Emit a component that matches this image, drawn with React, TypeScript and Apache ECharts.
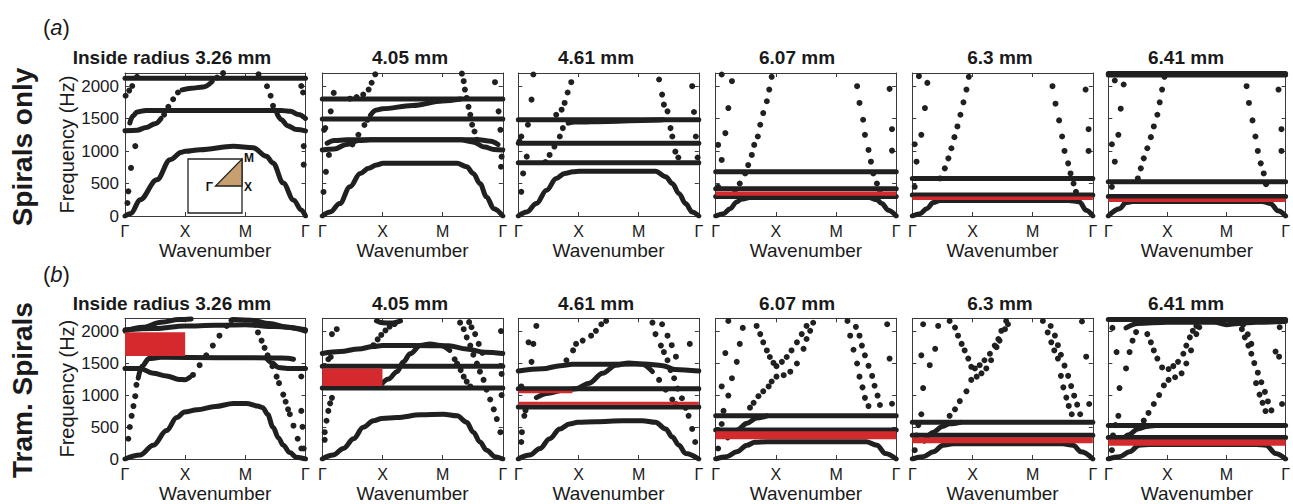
import React, { useEffect, useRef } from 'react';
import * as echarts from 'echarts';

type P = [number, number];

// ---------- texts / ticks ----------
const kLabels = ['Γ', 'X', 'M', 'Γ'];
const freqMax = 2200;
const freqStep = 500;
const panelTitles = ['Inside radius 3.26 mm', '4.05 mm', '4.61 mm', '6.07 mm', '6.3 mm', '6.41 mm'];
const rowTags = ['a', 'b'];
const rowNames = ['Spirals only', 'Tram. Spirals'];
const xName = 'Wavenumber';
const yName = 'Frequency (Hz)';

// ---------- row (a): Spirals only ----------
const a1Bands: P[][] = [
  [[0, 0], [0.1, 40], [0.25, 250], [0.53, 557], [0.75, 867], [0.94, 980], [1, 995], [1.25, 1020], [1.8, 1073], [2.13, 1050], [2.35, 918], [2.46, 816], [2.63, 506], [2.8, 248], [2.93, 93], [3, 0]],
  [[0.08, 1430], [0.13, 1540], [0.2, 1600], [0.35, 1625], [2.6, 1625], [2.75, 1610], [2.88, 1560], [3, 1500]],
  [[0, 1310], [0.2, 1320], [0.35, 1360], [0.5, 1420], [0.6, 1500]],
  [[0.95, 1940], [1.1, 1965], [1.3, 1985], [1.45, 2070]],
  [[2.53, 1566], [2.6, 1480], [2.7, 1390], [2.85, 1330], [3, 1310]],
  [[0, 2120], [3, 2120]],
];
const a1Dots: P[] = [
  [0.04, 200], [0.055, 380], [0.1, 740], [0.17, 1075], [0.01, 1850], [0.07, 1930], [0.12, 2000], [0.2, 2140],
  [0.65, 1560], [0.72, 1680], [0.8, 1796], [0.88, 1900], [1.53, 2130], [1.63, 2198],
  [2.22, 2180], [2.36, 1996], [2.42, 1850], [2.46, 1696], [2.5, 1620],
  [2.93, 2000], [2.96, 1900], [2.97, 1075], [2.97, 790],
];
const a2Bands: P[][] = [
  [[0, 0], [0.13, 62], [0.29, 191], [0.46, 449], [0.63, 655], [0.77, 733], [0.9, 784], [1.01, 810], [2.24, 810], [2.4, 758], [2.51, 655], [2.62, 500], [2.73, 294], [2.85, 113], [3, 0]],
  [[0, 1016], [0.2, 1030], [0.4, 1100], [0.6, 1160], [0.8, 1172], [2.3, 1172], [2.5, 1140], [2.7, 1060], [2.85, 1025], [3, 1016]],
  [[0.08, 1120], [0.2, 1160], [0.4, 1172], [2.6, 1172], [2.8, 1150], [2.92, 1100]],
  [[0, 1491], [3, 1491]],
  [[0, 1800], [3, 1800]],
  [[0.8, 1550], [0.9, 1630], [1, 1650], [1.5, 1700], [2.0, 1770], [2.3, 1800]],
];
const a2Dots: P[] = [
  [0.46, 1805], [0.57, 1830], [0.68, 1868], [0.77, 1945], [0.82, 2050], [0.88, 2180],
  [0.5, 1100], [0.6, 1250], [0.7, 1400], [0.75, 1480],
  [2.32, 2190], [2.35, 2074], [2.37, 1945], [2.4, 1816], [2.43, 1680], [2.46, 1558], [2.49, 1404], [2.53, 1300], [2.57, 1171],
  [0.02, 370], [0.06, 680], [0.11, 940], [0.03, 1326], [0.05, 1352], [0.14, 1610], [0.19, 1894],
  [2.87, 2059], [2.93, 1610], [2.96, 1326], [2.98, 913], [2.97, 758],
];
const a3Bands: P[][] = [
  [[0, 0], [0.14, 62], [0.3, 191], [0.47, 397], [0.63, 578], [0.77, 655], [0.91, 681], [1.02, 690], [2.28, 690], [2.45, 604], [2.56, 500], [2.67, 346], [2.78, 191], [2.89, 62], [3, 0]],
  [[0, 820], [3, 820]],
  [[0, 1120], [3, 1120]],
  [[0, 1481], [3, 1481]],
  [[0.83, 1429], [0.94, 1445], [1.5, 1455], [2.2, 1475], [2.4, 1481]],
];
const a3Dots: P[] = [
  [0.45, 830], [0.52, 939], [0.6, 1068], [0.69, 1223], [0.74, 1352],
  [0.63, 1558], [0.72, 1636], [0.77, 1739], [0.82, 1900], [0.88, 2059],
  [2.34, 2100], [2.39, 1868], [2.42, 1713], [2.48, 1610], [2.53, 1352], [2.56, 1223], [2.61, 990], [2.66, 900],
  [0.05, 372], [0.08, 655], [0.14, 913], [0.02, 1150], [0.05, 1223], [0.16, 1404], [0.22, 1790], [0.25, 2177],
  [2.89, 1997], [2.92, 1600], [2.95, 1223], [2.98, 900],
];
const a4Bands: P[][] = [
  [[0, 0], [0.13, 36], [0.24, 113], [0.35, 217], [0.43, 260], [0.57, 285], [2.55, 285], [2.68, 250], [2.76, 191], [2.87, 88], [3, 0]],
  [[0, 300], [3, 300]],
  [[0, 420], [3, 420]],
  [[0, 681], [3, 681]],
];
const a4Dots: P[] = [
  [0.32, 397], [0.4, 500], [0.49, 655], [0.54, 784], [0.6, 939], [0.64, 1094], [0.7, 1223], [0.74, 1404], [0.79, 1584], [0.85, 1765], [0.89, 1945], [0.93, 2141],
  [2.35, 1997], [2.39, 1739], [2.45, 1481], [2.48, 1249], [2.54, 1016], [2.58, 836], [2.62, 655], [2.68, 500], [2.73, 397],
  [0.04, 449], [0.1, 862], [0.16, 1275], [0.21, 1661], [0.27, 2074], [0.04, 1094], [0.1, 2177],
  [2.89, 1956], [2.93, 1336], [2.93, 1006],
];
const a5Bands: P[][] = [
  [[0, 0], [0.13, 36], [0.24, 113], [0.35, 206], [0.46, 240], [2.6, 240], [2.78, 217], [2.89, 88], [3, 0]],
  [[0, 325], [3, 325]],
  [[0, 578], [3, 578]],
];
const a5Dots: P[] = [
  [0.04, 449], [0.07, 836], [0.15, 1249], [0.21, 1661], [0.25, 2048], [0.04, 1104], [0.11, 2151],
  [0.46, 578], [0.54, 733], [0.6, 887], [0.65, 1042], [0.7, 1213], [0.75, 1378], [0.8, 1558], [0.85, 1749], [0.9, 1945], [0.94, 2141],
  [2.33, 1997], [2.38, 1728], [2.44, 1471], [2.49, 1223], [2.53, 1001], [2.59, 810], [2.63, 655], [2.68, 500], [2.72, 371],
  [2.88, 1945], [2.93, 1336], [2.93, 1001],
];
const a6Bands: P[][] = [
  [[0, 0], [0.19, 113], [0.3, 206], [0.41, 225], [2.6, 225], [2.75, 190], [2.87, 80], [3, 0]],
  [[0, 300], [3, 300]],
  [[0, 526], [3, 526]],
  [[0, 2170], [3, 2170]],
  [[0, 2192], [3, 2192]],
];
const a6Dots: P[] = [
  [0.06, 449], [0.11, 836], [0.17, 1249], [0.21, 1651], [0.26, 2023], [0.06, 1104], [0.11, 2085],
  [0.5, 578], [0.55, 733], [0.6, 887], [0.66, 1042], [0.72, 1213], [0.77, 1378], [0.83, 1558], [0.87, 1749], [0.91, 1945], [0.95, 2141],
  [2.34, 1997], [2.38, 1739], [2.44, 1471], [2.49, 1223], [2.53, 1001], [2.58, 810], [2.63, 655], [2.67, 490],
  [2.88, 1945], [2.93, 1336], [2.93, 1001],
];

// ---------- row (b): Tram. Spirals ----------
const b1Bands: P[][] = [
  [[0, 0], [0.25, 61], [0.47, 215], [0.69, 445], [0.86, 649], [0.99, 736], [1.2, 770], [1.5, 820], [1.8, 869], [2.02, 869], [2.2, 830], [2.29, 803], [2.37, 700], [2.46, 496], [2.55, 330], [2.63, 215], [2.74, 100], [2.85, 26], [3, 0]],
  [[0, 1416], [0.25, 1416], [0.47, 1340], [0.69, 1299], [0.9, 1245], [1.0, 1240], [1.08, 1280]],
  [[0.22, 1265], [0.28, 1450], [0.4, 1570], [0.6, 1590], [2.5, 1580], [2.7, 1575], [2.8, 1560]],
  [[2.35, 1575], [2.45, 1500], [2.55, 1430], [2.7, 1416], [3, 1416]],
  [[0, 2000], [0.3, 2060], [0.6, 2140], [0.9, 2180], [1.1, 2190]],
  [[0, 2020], [0.5, 2040], [1, 2080], [1.5, 2090], [2, 2100], [2.5, 2070], [3, 2020]],
  [[1.8, 2180], [2.1, 2170], [2.4, 2120], [2.7, 2060], [3, 2000]],
];
const b1Dots: P[] = [
  [0.055, 317], [0.08, 500], [0.11, 675], [0.14, 828], [0.17, 982], [0.19, 1160],
  [1.13, 1314], [1.24, 1467], [1.35, 1621], [1.46, 1774], [1.57, 1928], [1.69, 2081], [1.77, 2168],
  [2.17, 2100], [2.21, 1979], [2.27, 1851], [2.32, 1738], [2.37, 1621], [2.45, 1450], [2.52, 1288], [2.56, 1186], [2.63, 1007], [2.67, 895], [2.71, 777], [2.74, 700], [2.8, 521], [2.87, 317], [2.93, 164],
  [2.93, 752], [2.95, 503], [2.97, 164], [2.93, 1290],
];
const b2Bands: P[][] = [
  [[0, 0], [0.18, 61], [0.35, 164], [0.52, 317], [0.68, 496], [0.85, 598], [0.99, 634], [1.24, 649], [1.63, 690], [2.01, 700], [2.24, 675], [2.4, 573], [2.51, 419], [2.62, 266], [2.73, 138], [2.87, 36], [3, 0]],
  [[0, 1110], [3, 1110]],
  [[0, 1452], [3, 1452]],
  [[0, 1650], [0.3, 1680], [0.6, 1720], [0.85, 1760], [1, 1775], [1.5, 1775], [2.1, 1770], [2.4, 1720], [2.7, 1670], [3, 1650]],
  [[0.95, 1130], [1.1, 1250], [1.24, 1365], [1.35, 1519], [1.46, 1646], [1.63, 1774], [1.79, 1800], [1.96, 1774], [2.12, 1697]],
  [[0.9, 2160], [1.0, 2130], [1.15, 2125], [1.3, 2160]],
];
const b2Dots: P[] = [
  [2.2, 1560], [2.24, 1493], [2.3, 1390], [2.35, 1288], [2.4, 1210], [2.46, 1135],
  [0.85, 1780], [0.92, 1870], [0.98, 1940], [1.05, 2010], [1.12, 2070], [1.2, 2110],
  [0.04, 300], [0.04, 419], [0.07, 598], [0.1, 752], [0.13, 870], [0.16, 956], [0.1, 1560], [0.14, 1595], [0.16, 1953], [0.24, 2030],
  [2.29, 2132], [2.35, 2030], [2.4, 1902], [2.46, 1774], [2.51, 1630], [2.57, 1493], [2.62, 1365], [2.68, 1237], [2.73, 1084], [2.79, 930], [2.85, 777], [2.9, 624], [2.96, 419],
  [2.44, 2140], [2.48, 2060], [2.54, 1953], [2.6, 1800], [2.66, 1660],
  [2.98, 1330], [2.98, 1000], [2.97, 2000],
];
const b3Bands: P[][] = [
  [[0, 0], [0.19, 61], [0.36, 164], [0.52, 317], [0.69, 470], [0.85, 547], [0.99, 573], [1.29, 583], [1.73, 598], [2.06, 598], [2.28, 573], [2.45, 470], [2.56, 343], [2.67, 215], [2.78, 87], [3, 0]],
  [[0, 815], [3, 815]],
  [[0, 1100], [3, 1100]],
  [[0, 1375], [0.4, 1410], [0.7, 1460], [0.9, 1480], [2.1, 1485], [2.4, 1460], [2.6, 1400], [3, 1375]],
  [[0.3, 960], [0.5, 1030], [0.75, 1075], [0.96, 1100], [1.18, 1186], [1.4, 1340], [1.62, 1467], [1.84, 1503], [2.06, 1483], [2.23, 1365]],
];
const b3Dots: P[] = [
  [0.8, 1544], [0.91, 1698], [0.96, 1800], [1.07, 1851], [1.21, 1928], [1.29, 2004], [1.38, 2107], [1.46, 2158],
  [2.34, 1237], [2.45, 1084], [2.56, 930], [2.62, 860],
  [0.05, 266], [0.06, 419], [0.1, 675], [0.12, 760], [0.05, 1135], [0.22, 1519], [0.17, 1825], [0.25, 1800], [0.3, 2081],
  [2.23, 2132], [2.28, 1953], [2.37, 1774], [2.42, 1672], [2.48, 1544], [2.53, 1391], [2.59, 1263], [2.65, 1100], [2.72, 950], [2.78, 800], [2.83, 675], [2.89, 470], [2.94, 266],
  [2.39, 2107], [2.48, 1928], [2.55, 1780], [2.62, 1600],
  [2.85, 1800],
];
const b4Bands: P[][] = [
  [[0, 0], [0.18, 36], [0.35, 112], [0.52, 215], [0.65, 262], [0.85, 270], [2.5, 270], [2.68, 215], [2.82, 87], [3, 0]],
  [[0, 455], [3, 455]],
  [[0, 675], [3, 675]],
  [[0.2, 330], [0.35, 450], [0.52, 560], [0.68, 640], [0.85, 675]],
];
const b4Dots: P[] = [
  [0.04, 164], [0.07, 419], [0.1, 547], [0.13, 752], [0.21, 992], [0.27, 1263], [0.35, 1519], [0.4, 1800], [0.45, 2050], [0.1, 1135], [0.16, 1657], [0.21, 2158],
  [0.68, 2081], [0.74, 1953], [0.79, 1825], [0.85, 1697], [0.9, 1595], [0.96, 1503], [1.01, 1452], [1.1, 1519], [1.18, 1595], [1.26, 1697], [1.35, 1825], [1.43, 1953], [1.51, 2081],
  [0.57, 803], [0.63, 879], [0.71, 982], [0.79, 1058], [0.88, 1135], [0.93, 1212], [1.01, 1288], [1.13, 1310], [1.24, 1365], [1.35, 1493], [1.46, 1723], [1.51, 1876], [1.57, 2004], [1.62, 2130],
  [2.19, 2158], [2.235, 1928], [2.29, 1708], [2.35, 1493], [2.39, 1288], [2.44, 1120], [2.48, 956], [2.54, 828],
  [2.33, 2066], [2.39, 1928], [2.43, 1774], [2.48, 1621], [2.54, 1457], [2.6, 1299], [2.64, 1145], [2.69, 992], [2.73, 844],
  [2.85, 2107], [2.89, 1570], [2.93, 864],
];
const b5Bands: P[][] = [
  [[0, 0], [0.18, 36], [0.35, 112], [0.51, 215], [0.68, 238], [2.5, 238], [2.67, 215], [2.81, 112], [3, 0]],
  [[0, 370], [3, 370]],
  [[0, 573], [3, 573]],
  [[0.2, 280], [0.35, 420], [0.5, 510], [0.62, 550], [0.8, 573]],
];
const b5Dots: P[] = [
  [0.04, 138], [0.07, 368], [0.1, 530], [0.15, 700], [0.18, 1109], [0.29, 1467], [0.38, 1723], [0.43, 2081], [0.15, 1621], [0.18, 2107],
  [0.62, 2158], [0.71, 2055], [0.76, 1928], [0.82, 1800], [0.87, 1697], [0.93, 1570], [0.98, 1442], [1.04, 1416], [1.12, 1467], [1.2, 1544], [1.29, 1646], [1.37, 1774], [1.43, 1876], [1.48, 2004], [1.56, 2158],
  [0.62, 675], [0.71, 777], [0.79, 905], [0.9, 1058], [0.98, 1237], [1.07, 1288], [1.15, 1340], [1.23, 1416], [1.31, 1544], [1.4, 1749], [1.45, 1851], [1.54, 2030], [1.59, 2107],
  [2.17, 2158], [2.25, 1979], [2.31, 1825], [2.36, 1697], [2.42, 1570], [2.47, 1300], [2.51, 1120], [2.56, 960], [2.6, 830], [2.65, 700],
  [2.3, 2080], [2.37, 1930], [2.42, 1780], [2.47, 1630], [2.53, 1460], [2.59, 1300], [2.64, 1140], [2.69, 990], [2.74, 850], [2.79, 700],
  [2.82, 2150], [2.89, 1600], [2.94, 860],
];
const b6Bands: P[][] = [
  [[0, 0], [0.19, 36], [0.36, 112], [0.52, 215], [0.7, 228], [2.5, 228], [2.67, 215], [2.83, 87], [3, 0]],
  [[0, 335], [3, 335]],
  [[0, 522], [3, 522]],
  [[0.2, 260], [0.35, 380], [0.5, 470], [0.65, 510], [0.8, 522]],
  [[0, 2180], [3, 2180]],
  [[0.3, 2050], [0.5, 2120], [1, 2140], [1.8, 2140], [2, 2100], [2.2, 2120], [2.5, 2140], [3, 2150]],
];
const b6Dots: P[] = [
  [0.06, 138], [0.08, 368], [0.12, 530], [0.17, 675], [0.19, 1109], [0.3, 1416], [0.36, 1672], [0.41, 1850], [0.47, 1984], [0.14, 1672], [0.07, 2050],
  [0.66, 1953], [0.72, 1825], [0.77, 1697], [0.83, 1570], [0.91, 1432], [1.02, 1406], [1.1, 1452], [1.18, 1519], [1.27, 1646], [1.32, 1774], [1.38, 1902], [1.43, 2004], [1.49, 2081],
  [0.6, 600], [0.68, 720], [0.77, 860], [0.86, 1000], [0.94, 1150], [1.02, 1237], [1.13, 1278], [1.24, 1340], [1.32, 1493], [1.4, 1697], [1.49, 1953], [1.54, 2060],
  [2.26, 2030], [2.31, 1902], [2.37, 1774], [2.42, 1646], [2.5, 1186], [2.56, 1007], [2.61, 879], [2.66, 750],
  [2.28, 2100], [2.36, 1950], [2.42, 1800], [2.47, 1500], [2.53, 1350], [2.59, 1200], [2.65, 1050], [2.7, 900], [2.76, 760],
  [2.83, 1680], [2.89, 1600], [2.94, 860], [2.9, 2060],
];

// band gaps: [kStart, kEnd, fLow, fHigh]
const gapsA: number[][][] = [[], [], [], [[0, 3, 310, 376]], [[0, 3, 248, 299]], [[0, 3, 217, 268]]];
const gapsB: number[][][] = [
  [[0, 1, 1610, 1980]],
  [[0, 1, 1140, 1415]],
  [[0, 0.9, 1030, 1066], [0, 3, 850, 897]],
  [[0, 3, 307, 434]],
  [[0, 3, 245, 337]],
  [[0, 3, 207, 305]],
];

const panelBands = [a1Bands, a2Bands, a3Bands, a4Bands, a5Bands, a6Bands, b1Bands, b2Bands, b3Bands, b4Bands, b5Bands, b6Bands];
const panelDots = [a1Dots, a2Dots, a3Dots, a4Dots, a5Dots, a6Dots, b1Dots, b2Dots, b3Dots, b4Dots, b5Dots, b6Dots];
const panelGaps = [...gapsA, ...gapsB];

// ---------- layout ----------
const FONT = "'Liberation Sans', Arial, Helvetica, sans-serif";
const INK = '#202020';
const RED = '#d42a2e';
const gridLefts = [125, 322.3, 518.3, 715.7, 912.3, 1108.3];
const gridW = 180.5;
const rowTops = [73, 318.3];
const rowH = [143, 142.4];
const titleCenters = [172, 410, 596, 797, 1000, 1186];
const titleY = [57.5, 303.5];

function buildOption() {
  const grid: any[] = [];
  const xAxis: any[] = [];
  const yAxis: any[] = [];
  const series: any[] = [];
  const graphic: any[] = [];

  for (let r = 0; r < 2; r++) {
    for (let c = 0; c < 6; c++) {
      const i = r * 6 + c;
      grid[i] = { left: gridLefts[c], top: rowTops[r], width: gridW, height: rowH[r], containLabel: false };
      const lineStyle = { color: '#3a3a3a', width: 1 };
      xAxis[i] = {
        type: 'value', gridIndex: i, min: 0, max: 3, interval: 1, position: 'bottom',
        axisLine: { show: true, onZero: false, lineStyle },
        axisTick: { show: true, inside: true, length: 4, lineStyle },
        splitLine: { show: false },
        axisLabel: { show: true, margin: 7, fontSize: 16, color: '#1a1a1a', fontFamily: FONT, formatter: (v: number) => kLabels[Math.round(v)] ?? '' },
        name: xName, nameLocation: 'middle', nameGap: 25,
        nameTextStyle: { fontSize: 19, color: '#1a1a1a', fontFamily: FONT },
      };
      xAxis[12 + i] = {
        type: 'value', gridIndex: i, min: 0, max: 3, interval: 1, position: 'top',
        axisLine: { show: true, onZero: false, lineStyle },
        axisTick: { show: true, inside: true, length: 4, lineStyle },
        splitLine: { show: false }, axisLabel: { show: false },
      };
      yAxis[i] = {
        type: 'value', gridIndex: i, min: 0, max: freqMax, interval: freqStep, position: 'left',
        axisLine: { show: true, onZero: false, lineStyle },
        axisTick: { show: true, inside: true, length: 4, lineStyle },
        splitLine: { show: false },
        axisLabel: {
          show: c === 0, margin: 6, fontSize: 17, color: '#1a1a1a', fontFamily: FONT, showMaxLabel: false,
          formatter: (v: number) => (v > 2000 ? '' : String(v)),
        },
        name: c === 0 ? yName : '', nameLocation: 'middle', nameGap: 47,
        nameTextStyle: { fontSize: 20, color: '#1a1a1a', fontFamily: FONT },
      };
      yAxis[12 + i] = {
        type: 'value', gridIndex: i, min: 0, max: freqMax, interval: freqStep, position: 'right',
        axisLine: { show: true, onZero: false, lineStyle },
        axisTick: { show: true, inside: true, length: 4, lineStyle },
        splitLine: { show: false }, axisLabel: { show: false },
      };

      panelBands[i].forEach((band) => {
        series.push({
          type: 'line', xAxisIndex: i, yAxisIndex: i, data: band, silent: true,
          smooth: 0.35, smoothMonotone: 'x', symbol: 'none', clip: true, z: 2,
          lineStyle: { color: INK, width: 5, cap: 'round', join: 'round', opacity: 1 },
        });
      });
      series.push({
        type: 'scatter', xAxisIndex: i, yAxisIndex: i, data: panelDots[i], silent: true,
        symbol: 'circle', symbolSize: 6, clip: true, z: 3,
        itemStyle: { color: INK, opacity: 1 },
      });
      series.push({
        type: 'custom', xAxisIndex: i, yAxisIndex: i, data: panelGaps[i], silent: true, z: 4,
        encode: { x: [0, 1], y: [2, 3] },
        renderItem: (params: any, api: any) => {
          const p0 = api.coord([api.value(0), api.value(3)]);
          const p1 = api.coord([api.value(1), api.value(2)]);
          const cs = params.coordSys;
          const shape = echarts.graphic.clipRectByRect(
            { x: p0[0], y: p0[1], width: p1[0] - p0[0], height: p1[1] - p0[1] },
            { x: cs.x, y: cs.y, width: cs.width, height: cs.height }
          );
          return shape ? { type: 'rect', shape, style: { fill: RED } } : null;
        },
      });

      graphic.push({
        type: 'text', x: titleCenters[c], y: titleY[r],
        style: { text: panelTitles[c], fontSize: 19, fontWeight: 'bold', fontFamily: FONT, fill: '#1a1a1a', align: 'center', verticalAlign: 'middle' },
      });
    }
    graphic.push({
      type: 'text', x: 43, y: r === 0 ? 27 : 274,
      style: {
        text: '({i|' + rowTags[r] + '})', fontSize: 22, fontFamily: FONT, fill: '#1a1a1a', verticalAlign: 'middle',
        rich: { i: { fontStyle: 'italic', fontSize: 22, fontFamily: FONT, fill: '#1a1a1a' } },
      },
    });
    graphic.push({
      type: 'text', x: 22.5, y: r === 0 ? 147 : 390, rotation: Math.PI / 2,
      style: { text: rowNames[r], fontSize: 28, fontWeight: 'bold', fontFamily: FONT, fill: '#1a1a1a', align: 'center', verticalAlign: 'middle' },
    });
  }

  // Brillouin-zone inset in the first panel
  graphic.push({ type: 'rect', z: 10, shape: { x: 188, y: 159, width: 54, height: 54 }, style: { fill: '#fff', stroke: '#222', lineWidth: 1.3 } });
  graphic.push({ type: 'polygon', z: 11, shape: { points: [[215.5, 186], [242, 186], [242, 159]] }, style: { fill: '#c89f6e', stroke: '#222', lineWidth: 1.3 } });
  graphic.push({ type: 'text', z: 12, x: 213, y: 186.5, style: { text: 'Γ', fontSize: 12, fontWeight: 'bold', fontFamily: FONT, fill: '#111', align: 'right', verticalAlign: 'middle' } });
  graphic.push({ type: 'text', z: 12, x: 244, y: 186.5, style: { text: 'X', fontSize: 12, fontWeight: 'bold', fontFamily: FONT, fill: '#111', align: 'left', verticalAlign: 'middle' } });
  graphic.push({ type: 'text', z: 12, x: 244, y: 157.5, style: { text: 'M', fontSize: 12, fontWeight: 'bold', fontFamily: FONT, fill: '#111', align: 'left', verticalAlign: 'middle' } });

  return { animation: false, backgroundColor: '#ffffff', grid, xAxis, yAxis, series, graphic };
}

export default function App() {
  const ref = useRef<HTMLDivElement | null>(null);
  useEffect(() => {
    if (!ref.current) return;
    const chart = echarts.init(ref.current, undefined, { renderer: 'svg' });
    chart.setOption(buildOption() as any);
    return () => chart.dispose();
  }, []);
  return <div ref={ref} style={{ position: 'fixed', left: 0, top: 0, width: 1293, height: 504, background: '#fff' }} />;
}
